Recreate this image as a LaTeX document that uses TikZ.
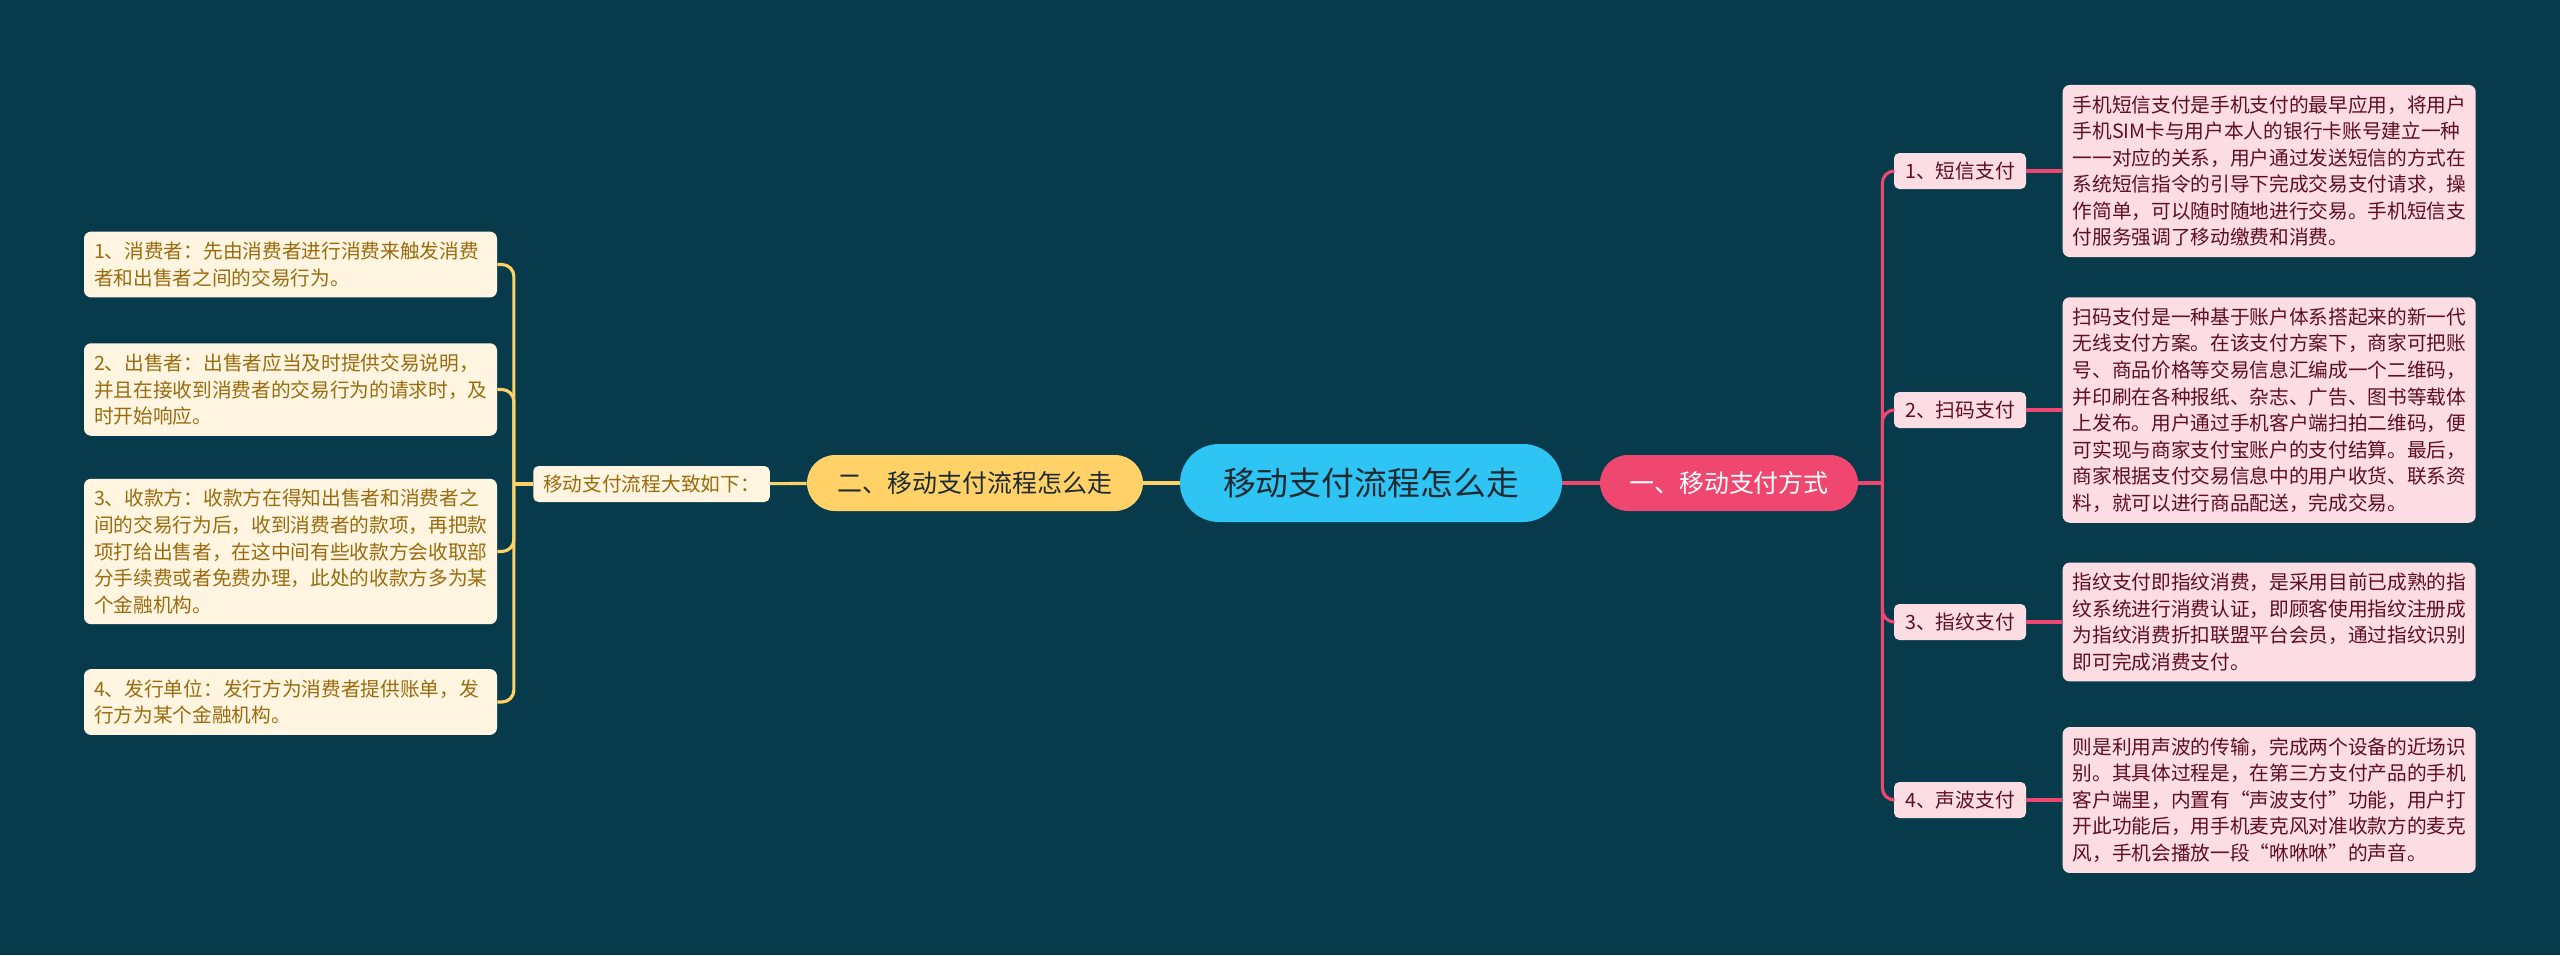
\documentclass[tikz,border=0pt]{standalone}
\usepackage{fontspec}
\setmainfont{Noto Sans CJK SC}
\definecolor{BgTeal}{HTML}{073B4C}
\definecolor{HubCyan}{HTML}{2EC4F3}
\definecolor{TopicPink}{HTML}{EF476F}
\definecolor{TopicGold}{HTML}{FFD166}
\definecolor{NotePink}{HTML}{FCDDE3}
\definecolor{NoteCream}{HTML}{FFF5E1}
\definecolor{TextMaroon}{HTML}{5E0D22}
\definecolor{TextGold}{HTML}{9A6B0E}
\definecolor{TextDark}{HTML}{1F2A30}
\usetikzlibrary{positioning}

\begin{document}
\begin{tikzpicture}[
      hub/.style={fill=HubCyan, rounded corners=0.78cm,
                  minimum width=7.64cm, minimum height=1.56cm,
                  text=TextDark, font=\fontsize{18.7}{22}\selectfont},
      topic/.style={rounded corners=0.56cm, minimum height=1.12cm,
                    font=\fontsize{14.2}{17}\selectfont},
      tag/.style={rounded corners=3pt, minimum height=0.72cm,
                  inner xsep=0.2cm, font=\fontsize{11.2}{15}\selectfont},
      note/.style={rounded corners=4pt, text width=7.86cm,
                   inner xsep=0.2cm, inner ysep=0.21cm, align=left,
                   font=\fontsize{11.2}{15.1}\selectfont},
      pinklink/.style={TopicPink, line width=1.8pt},
      goldlink/.style={TopicGold, line width=1.8pt},
      node distance=0.72cm]

      \path[use as bounding box, fill=BgTeal] (0,0) rectangle (51.2,-19.1);

      \node[hub] (hub) at (27.42,-9.66) {移动支付流程怎么走};
      \node[topic, fill=TopicPink, text=white, minimum width=5.16cm]
            (pay) at (34.58,-9.66) {一、移动支付方式};
      \node[topic, fill=TopicGold, text=TextDark, minimum width=6.72cm]
            (flow) at (19.50,-9.66) {二、移动支付流程怎么走};
      \node[tag, fill=NoteCream, text=TextGold, minimum width=4.7cm]
            (flowtag) at (13.03,-9.68) {移动支付流程大致如下：};

      % right branch
      \node[tag, fill=NotePink, text=TextMaroon, minimum width=2.64cm] (sms)    at (39.2,-3.42)  {1、短信支付};
      \node[tag, fill=NotePink, text=TextMaroon, minimum width=2.64cm] (scan)   at (39.2,-8.20)  {2、扫码支付};
      \node[tag, fill=NotePink, text=TextMaroon, minimum width=2.64cm] (finger) at (39.2,-12.44) {3、指纹支付};
      \node[tag, fill=NotePink, text=TextMaroon, minimum width=2.64cm] (sonic)  at (39.2,-16.00) {4、声波支付};

      \node[note, fill=NotePink, text=TextMaroon, right=of sms] (note-sms)
            {手机短信支付是手机支付的最早应用，将用户\\
             手机SIM卡与用户本人的银行卡账号建立一种\\
             一一对应的关系，用户通过发送短信的方式在\\
             系统短信指令的引导下完成交易支付请求，操\\
             作简单，可以随时随地进行交易。手机短信支\\
             付服务强调了移动缴费和消费。};
      \node[note, fill=NotePink, text=TextMaroon, right=of scan] (note-scan)
            {扫码支付是一种基于账户体系搭起来的新一代\\
             无线支付方案。在该支付方案下，商家可把账\\
             号、商品价格等交易信息汇编成一个二维码，\\
             并印刷在各种报纸、杂志、广告、图书等载体\\
             上发布。用户通过手机客户端扫拍二维码，便\\
             可实现与商家支付宝账户的支付结算。最后，\\
             商家根据支付交易信息中的用户收货、联系资\\
             料，就可以进行商品配送，完成交易。};
      \node[note, fill=NotePink, text=TextMaroon, right=of finger] (note-finger)
            {指纹支付即指纹消费，是采用目前已成熟的指\\
             纹系统进行消费认证，即顾客使用指纹注册成\\
             为指纹消费折扣联盟平台会员，通过指纹识别\\
             即可完成消费支付。};
      \node[note, fill=NotePink, text=TextMaroon, right=of sonic] (note-sonic)
            {则是利用声波的传输，完成两个设备的近场识\\
             别。其具体过程是，在第三方支付产品的手机\\
             客户端里，内置有“声波支付”功能，用户打\\
             开此功能后，用手机麦克风对准收款方的麦克\\
             风，手机会播放一段“咻咻咻”的声音。};

      % left branch
      \node[note, fill=NoteCream, text=TextGold] (buyer) at (5.81,-5.29)
            {1、消费者：先由消费者进行消费来触发消费\\
             者和出售者之间的交易行为。};
      \node[note, fill=NoteCream, text=TextGold] (seller) at (5.81,-7.79)
            {2、出售者：出售者应当及时提供交易说明，\\
             并且在接收到消费者的交易行为的请求时，及\\
             时开始响应。};
      \node[note, fill=NoteCream, text=TextGold] (payee) at (5.81,-11.03)
            {3、收款方：收款方在得知出售者和消费者之\\
             间的交易行为后，收到消费者的款项，再把款\\
             项打给出售者，在这中间有些收款方会收取部\\
             分手续费或者免费办理，此处的收款方多为某\\
             个金融机构。};
      \node[note, fill=NoteCream, text=TextGold] (issuer) at (5.81,-14.04)
            {4、发行单位：发行方为消费者提供账单，发\\
             行方为某个金融机构。};

      \coordinate (payfork) at ([xshift=0.48cm]pay.east);
      \coordinate (flowfork) at ([xshift=-0.38cm]flowtag.west);

      \draw[pinklink] (hub) -- (pay);
      \draw[goldlink] (hub) -- (flow);
      \draw[goldlink] (flow) -- (flowtag);
      \draw[pinklink] (pay) -- (payfork);
      \draw[goldlink] (flowtag) -- (flowfork);

      \foreach \t in {sms, scan, finger, sonic}{
        \draw[pinklink, rounded corners=0.24cm] (payfork) |- (\t.west);
        \draw[pinklink] (\t) -- (note-\t);
      }
      \foreach \t in {buyer, seller, payee, issuer}
        \draw[goldlink, rounded corners=0.24cm] (flowfork) |- (\t.east);
    \end{tikzpicture}
\end{document}
